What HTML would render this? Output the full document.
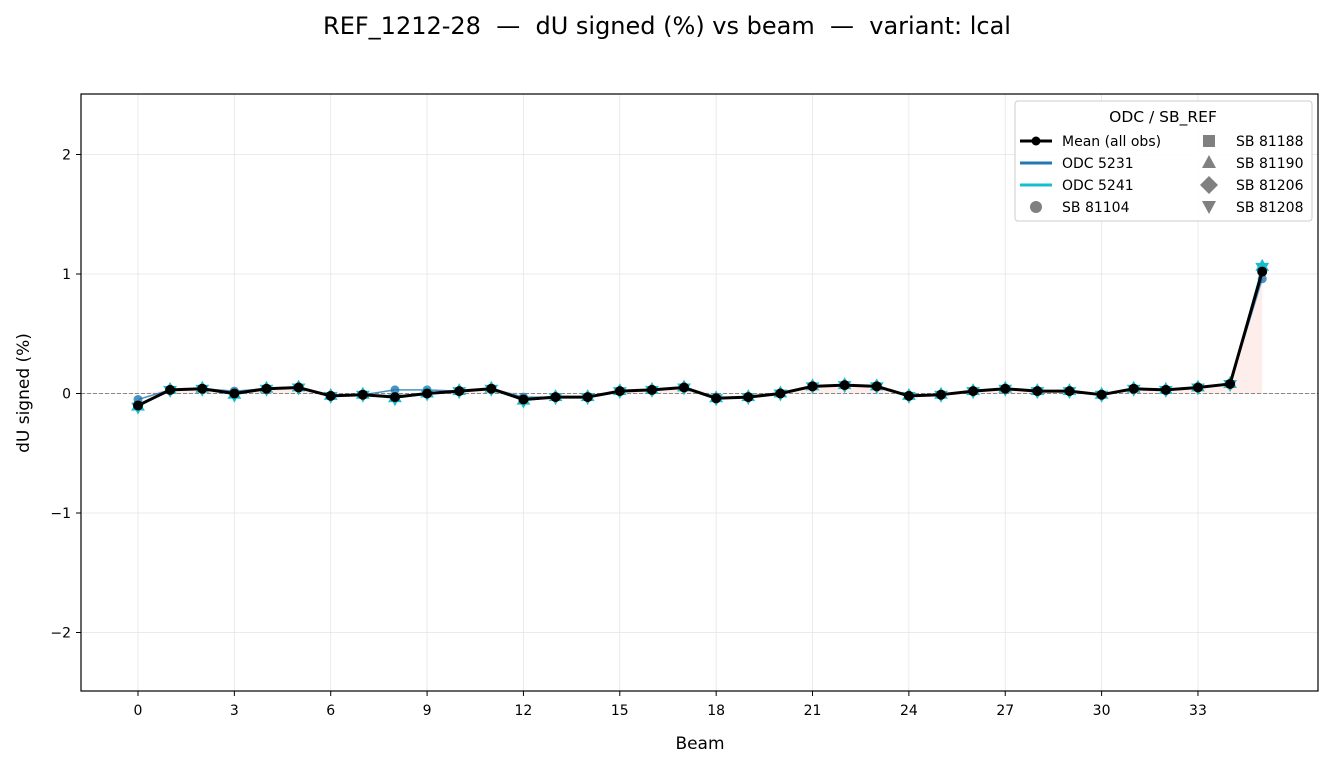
<!DOCTYPE html><html><head><meta charset="utf-8"><style>body{margin:0;background:#fff}svg{font-family:"DejaVu Sans","Liberation Sans",sans-serif}</style></head><body>
<svg id="s" width="1334" height="767" xmlns="http://www.w3.org/2000/svg">
<rect width="1334" height="767" fill="#fff"/>
<text x="667" y="34" font-size="24" text-anchor="middle" style="white-space:pre">REF_1212-28  —  dU signed (%) vs beam  —  variant: lcal</text>
<g id="g"></g>
<rect x="81" y="94" width="1237" height="597" fill="none" stroke="#000" stroke-width="1.2"/>
<text x="700" y="749" font-size="17" text-anchor="middle">Beam</text>
<text transform="translate(29,393) rotate(-90)" font-size="17" text-anchor="middle">dU signed (%)</text>
<g font-size="14">
<rect x="1015" y="101" width="297" height="120" rx="3" fill="#fff" fill-opacity="0.9" stroke="#ccc"/>
<text x="1163" y="122" font-size="15.5" text-anchor="middle">ODC / SB_REF</text>
<line x1="1020" y1="141" x2="1052" y2="141" stroke="#000" stroke-width="3"/><circle cx="1036" cy="141" r="4.5"/>
<text x="1062" y="146">Mean (all obs)</text>
<line x1="1020" y1="163" x2="1052" y2="163" stroke="#1f77b4" stroke-width="3"/><text x="1062" y="168">ODC 5231</text>
<line x1="1020" y1="185" x2="1052" y2="185" stroke="#17becf" stroke-width="3"/><text x="1062" y="190">ODC 5241</text>
<circle cx="1036" cy="207" r="6" fill="#808080"/><text x="1062" y="212">SB 81104</text>
<rect x="1203" y="135" width="12" height="12" fill="#808080"/><text x="1236" y="146">SB 81188</text>
<polygon points="1209,155 1216,168 1202,168" fill="#808080"/><text x="1236" y="168">SB 81190</text>
<polygon points="1209,176 1218,185 1209,194 1200,185" fill="#808080"/><text x="1236" y="190">SB 81206</text>
<polygon points="1202,201 1216,201 1209,214" fill="#808080"/><text x="1236" y="212">SB 81208</text>
</g>
</svg>
<script>
const m=[-0.10,0.03,0.04,0.0,0.04,0.05,-0.02,-0.01,-0.03,0.0,0.02,0.04,-0.05,-0.03,-0.03,0.02,0.03,0.05,-0.04,-0.03,0.0,0.06,0.07,0.06,-0.02,-0.01,0.02,0.04,0.02,0.02,-0.01,0.04,0.03,0.05,0.08,1.02];
const b=m.slice();b[0]=-0.05;b[3]=0.02;b[8]=0.03;b[9]=0.03;b[12]=-0.03;b[35]=0.96;
const c=m.slice();c[0]=-0.11;c[8]=-0.04;c[12]=-0.06;c[35]=1.06;c[3]=-0.01;
const X=i=>138+i*32.12,Y=v=>393.5-v*119.5;
const ns="http://www.w3.org/2000/svg",g=document.getElementById('g');
function el(t,a){const e=document.createElementNS(ns,t);for(const k in a)e.setAttribute(k,a[k]);g.appendChild(e);return e}
for(let i=0;i<=33;i+=3){el('line',{x1:X(i),x2:X(i),y1:94,y2:691,stroke:'#e5e5e5','stroke-width':0.8});el('line',{x1:X(i),x2:X(i),y1:691,y2:696,stroke:'#000'});el('text',{x:X(i),y:715,'font-size':14,'text-anchor':'middle'}).textContent=i}
for(let v=-2;v<=2;v++){const y=Y(v);el('line',{x1:81,x2:1318,y1:y,y2:y,stroke:'#e5e5e5','stroke-width':0.8});el('line',{x1:76,x2:81,y1:y,y2:y,stroke:'#000'});el('text',{x:71,y:y+5,'font-size':14,'text-anchor':'end'}).textContent=v===0?'0':(v<0?'−'+(-v):v)}
let p='M'+X(0)+','+Y(0);m.forEach((v,i)=>p+=' L'+X(i)+','+Y(Math.max(v,0)));p+=' L'+X(35)+','+Y(0)+'Z';
el('path',{d:p,fill:'rgba(250,200,190,0.3)'});
el('line',{x1:81,x2:1318,y1:Y(0),y2:Y(0),stroke:'#888','stroke-dasharray':'4,2','stroke-width':1});
const pl=(a,col,w)=>el('polyline',{points:a.map((v,i)=>X(i)+','+Y(v)).join(' '),fill:'none',stroke:col,'stroke-width':w,opacity:0.8});
pl(b,'#1f77b4',1.5);pl(c,'#17becf',1.5);
b.forEach((v,i)=>el('circle',{cx:X(i),cy:Y(v),r:4.5,fill:'#1f77b4',opacity:0.8}));
c.forEach((v,i)=>{const x=X(i),y=Y(v);let s='';for(let k=0;k<12;k++){const r=k%2?4.5:8,a=k*Math.PI/6-Math.PI/2;s+=(x+r*Math.cos(a))+','+(y+r*Math.sin(a))+' '}el('polygon',{points:s,fill:'#17becf'})});
el('polyline',{points:m.map((v,i)=>X(i)+','+Y(v)).join(' '),fill:'none',stroke:'#000','stroke-width':3,'stroke-linejoin':'round'});
m.forEach((v,i)=>el('circle',{cx:X(i),cy:Y(v),r:5,fill:'#000'}));
</script>
</body></html>
